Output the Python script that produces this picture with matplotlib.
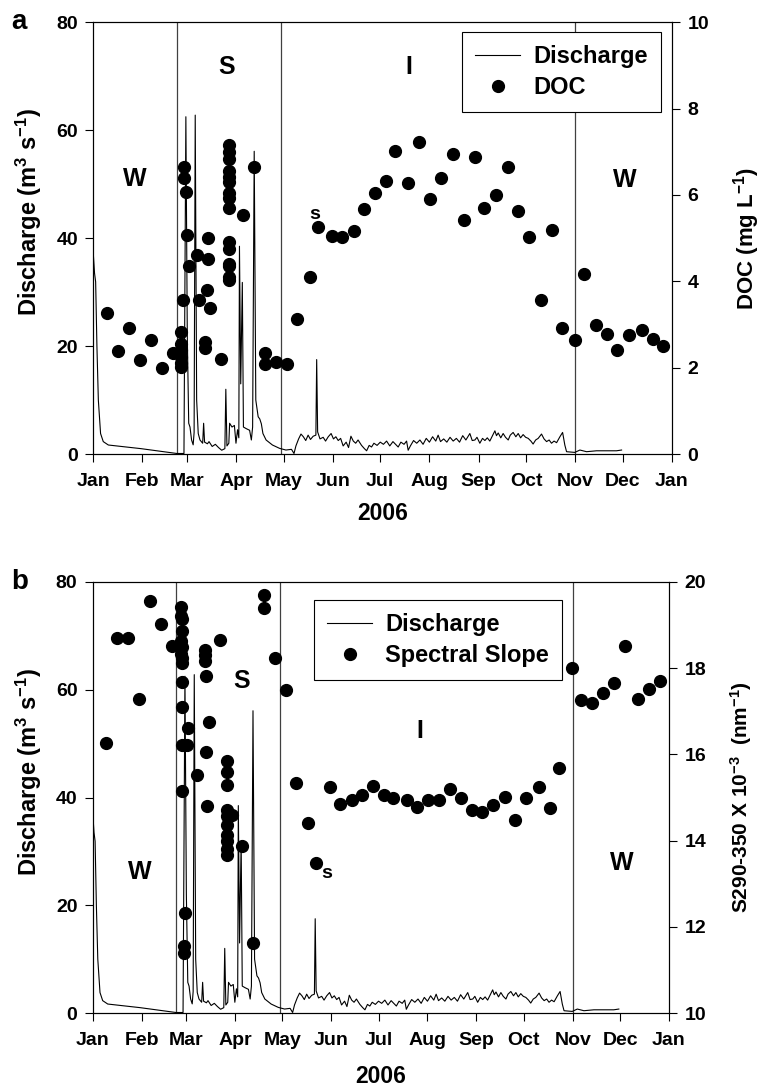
import numpy as np, matplotlib
matplotlib.use("Agg")
import matplotlib.pyplot as plt
from matplotlib.lines import Line2D

plt.rcParams["font.family"]=["Liberation Sans","DejaVu Sans"]
plt.rcParams["font.weight"]="bold"
plt.rcParams["mathtext.fontset"]="custom"
plt.rcParams["mathtext.rm"]="Liberation Sans:bold"
plt.rcParams["mathtext.bf"]="Liberation Sans:bold"
plt.rcParams["mathtext.default"]="bf"

# month ticks (day of year 2006)
month_days=[0,31,59,90,120,151,181,212,243,273,304,334,365]
month_labels=["Jan","Feb","Mar","Apr","May","Jun","Jul","Aug","Sep","Oct","Nov","Dec","Jan"]
season_lines=[52.7,118.6,304]

# discharge (m3 s-1)
q_day=[0,0.8,1.5,2.3,3.2,4.6,6.3,9.5,30,52.7,57.2,58.4,59.3,60.2,61,62,63,63.6,64.3,65.2,66.2,67.3,69,69.6,70.2,72,73,
       75,77,79,81,83,83.6,84.3,85.5,86,87.5,89,90,91,91.8,92.2,93,94,94.7,96.5,98.6,99.7,100.5,101.5,102.5,104,105,106,
       107,109,113,117.5,121.5,125,126.6,127.8,129.5,131,132.5,134,135.5,137,138.7,140.4,140.9,141.5,143,145,146.5,148.2,
       150,151.5,153,154.5,156,157.6,159.5,161,162.5,164,165.5,167,169.2,171,172.4,174,175.5,177,179,181,183,185,187,
       189,191,192.3,194,196,197.6,198.6,200,202,204,206,208,210,212,214,216,217.5,219,221,223,225,227,229,231,233,235,
       237.5,239,240.7,242,243.8,245.5,247,248.5,250.1,251.8,253.3,254.3,255.4,257,258.5,260,261.7,263,264.8,266.5,268,
       269.5,271.1,272.7,274.3,276,277.4,279,280.6,282.7,284.3,285.9,287.5,289,290.6,292.2,294.3,296,297.4,298.5,303.7,
       306.9,311.1,317.4,323.7,330,333.2]
q_val=[37.2,33.5,31.9,20,10,3.8,2.3,1.67,1.0,0.1,0.1,62.5,22,5.7,5.0,2.6,1.7,4,62.8,10,3.8,2.6,2.0,5.7,2.2,1.9,2.3,
       1.4,1.8,1.2,0.7,1.0,12.0,1.5,2.0,5.7,5.0,5.3,2.0,4.5,3.0,38.5,13,31.8,5,4.7,4.4,2.6,5,56.1,10,6.9,6.5,5.6,
       3.8,2.6,1.67,1.05,0.74,0.87,0.1,1.5,2.8,3.7,3.2,2.5,3.5,2.7,3.3,3.5,17.5,4.1,2.8,3.1,2.4,3.2,
       3.8,2.8,3.2,2.5,2.9,1.5,2.2,1.2,3.3,2.4,2.0,2.6,1.6,1.0,0.6,1.6,1.3,2.0,1.6,2.2,1.8,2.4,1.5,
       2.3,1.7,1.3,2.2,1.8,2.4,0.7,1.5,2.5,2.0,2.6,1.8,2.9,2.2,3.2,2.4,3.5,2.3,2.8,2.2,3.1,2.4,2.9,2.2,3.4,2.6,
       3.8,2.5,2.6,3.1,2.0,2.9,2.5,3.0,2.4,3.4,4.3,3.4,3.9,3.0,3.8,3.1,2.6,3.5,4.0,3.2,3.8,
       3.0,3.6,3.1,2.9,2.4,1.85,2.6,2.9,3.7,2.8,2.3,2.6,2.0,2.4,2.1,3.2,4.0,1.67,0.43,0.3,
       0.74,0.43,0.6,0.6,0.6,0.74]

# DOC (mg L-1)
doc_day=[8.4,15.4,22.3,29.3,36.2,43.3,50.3,55.4,55.4,55.4,55.4,55.4,55.4,56.6,57.4,57.4,58.4,59.3,60.6,65.6,66.4,72.3,
         72.5,71.5,73.4,70.4,70.4,80.5,85.8,85.8,85.8,85.8,85.8,85.8,85.8,85.8,85.8,85.8,85.8,85.8,85.8,85.8,85.8,94.4,
         101.3,108.5,108.5,115.4,122.3,128.4,136.4,141.5,150.5,156.6,164.4,170.5,177.4,184.6,190.4,198.6,205.4,212.5,
         219.4,226.6,233.5,240.7,246.5,253.7,261.5,267.6,274.7,282.5,289.4,295.5,303.9,309.8,316.8,323.7,330.6,337.6,
         346,352.7,359.6]
doc_val=[3.26,2.38,2.92,2.18,2.64,1.99,2.33,2.83,2.56,2.41,2.25,2.10,2.02,3.56,6.64,6.40,6.06,5.08,4.35,4.60,3.56,5.0,
         4.51,3.80,3.38,2.60,2.45,2.20,7.15,7.0,6.84,6.56,6.42,6.30,6.05,5.92,5.69,4.90,4.76,4.41,4.36,4.09,4.03,5.53,
         6.65,2.33,2.08,2.14,2.08,3.12,4.11,5.26,5.05,5.02,5.16,5.68,6.05,6.33,7.01,6.28,7.22,5.91,
         6.40,6.96,5.42,6.88,5.69,5.99,6.65,5.63,5.03,3.56,5.19,2.92,2.63,4.17,2.99,2.79,2.42,2.76,
         2.87,2.67,2.50]

# spectral slope S290-350 (x 10^-3 nm-1)
ss_day=[8.4,15.4,22.5,29.5,36.4,43.4,50.2,55.7,55.7,56.4,56.3,55.7,56.6,55.7,56.3,56.6,56.6,56.6,60.5,56.3,59.5,56.6,
        58.4,57.6,57.9,66.2,71,71,71,71.5,73.4,71.5,72.5,80.5,85.3,85.3,85.3,85.3,87.9,85.3,85.3,85.3,85.3,85.3,85.3,
        94.6,101.4,108.5,108.5,115.7,122.5,128.6,136.4,141.4,150.5,156.4,164.4,170.3,177.5,184.3,190.1,199.3,205.6,
        212.3,219.2,226.2,233.4,240.5,246.7,253.4,261.4,267.3,274.5,282.5,289.4,295.6,303.4,309.3,316.3,323.4,330.4,
        337.3,345.4,352.1,359.5]
ss_val=[16.27,18.69,18.71,17.29,19.57,19.02,18.52,19.42,19.21,19.13,18.86,18.64,18.50,18.34,18.24,18.13,17.67,17.09,
        16.62,16.22,16.22,15.14,12.32,11.55,11.40,15.53,18.42,18.30,18.17,17.81,16.75,16.05,14.80,18.66,15.84,15.59,
        15.28,14.70,14.60,14.56,14.36,14.14,13.99,13.81,13.67,13.87,11.62,19.69,19.39,18.23,17.50,15.33,14.42,13.47,
        15.24,14.85,14.94,15.06,15.27,15.05,14.99,14.94,14.79,14.94,14.94,15.19,15.0,14.72,14.66,14.83,15.02,14.47,
        14.98,15.25,14.76,15.68,18.01,17.26,17.20,17.42,17.66,18.52,17.29,17.52,17.70]

fig=plt.figure(figsize=(7.62,10.88),dpi=100)
axa=fig.add_axes([0.1224,0.5827,0.7595,0.3968])
axb=fig.add_axes([0.1217,0.0689,0.7563,0.3962])

def panel(ax,yvals,ylab2,lab2fs,yr,yticks2,mlabel,leg_anchor,letter,texts,xpad):
    for d in season_lines:
        ax.axvline(d,color="#404040",lw=0.9,zorder=1)
    ax.plot(q_day,q_val,color="black",lw=0.8,zorder=2)
    ax.set_xlim(0,365); ax.set_ylim(0,80)
    ax.set_xticks(month_days); ax.set_xticklabels(month_labels)
    ax.set_yticks([0,20,40,60,80])
    ax.tick_params(direction="out",length=6,width=0.8,labelsize=14,pad=5)
    ax.tick_params(axis="x",pad=8)
    ax.set_ylabel("Discharge (m$^{3}$ s$^{-1}$)",fontsize=17,fontweight="bold")
    ax.yaxis.set_label_coords(-0.085,0.56)
    ax.set_xlabel("2006",fontsize=16.5,fontweight="bold",labelpad=xpad)
    ax2=ax.twinx()
    ax2.plot(yvals[0],yvals[1],"o",color="black",ms=8.5,zorder=3)
    ax2.set_ylim(*yr); ax2.set_yticks(yticks2)
    ax2.tick_params(direction="out",length=6,width=0.8,labelsize=14,pad=5)
    ax2.set_ylabel(ylab2,fontsize=lab2fs,fontweight="bold",labelpad=16)
    for s in list(ax.spines.values())+list(ax2.spines.values()):
        s.set_linewidth(0.8)
    for t,x,y,fs in texts:
        ax.text(x,y,t,fontsize=fs,fontweight="bold",ha="center",va="center",zorder=4)
    h=[Line2D([],[],color="black",lw=0.8),Line2D([],[],ls="",marker="o",color="black",ms=8.5)]
    lg=ax2.legend(h,["Discharge",mlabel],loc="upper right",bbox_to_anchor=leg_anchor,fancybox=False,
                  edgecolor="black",framealpha=1,prop={"size":17,"weight":"bold"},handlelength=1.9,
                  borderpad=0.55,labelspacing=0.35,handletextpad=0.55,borderaxespad=0)
    lg.get_frame().set_linewidth(0.8); lg.set_zorder(5)
    fig.text(0.015,ax.get_position().y1,letter,fontsize=20,fontweight="bold",va="center")
    return ax2

panel(axa,(doc_day,doc_val),"DOC (mg L$^{-1}$)",16,(0,10),[0,2,4,6,8,10],"DOC",(0.9805,0.978),"a",
      [("S",84,71.7,18),("W",26.3,50.9,18),("s",139.4,44.3,14),("I",199,71.7,18),("W",335,50.7,18)],8)
panel(axb,(ss_day,ss_val),"S290-350 X 10$^{-3}$  (nm$^{-1}$)",15,(10,20),[10,12,14,16,18,20],"Spectral Slope",
      (0.8143,0.958),"b",
      [("S",94.6,61.6,18),("W",30,26.1,18),("s",148,25.9,14),("I",207,52.4,18),("W",335,27.9,18)],11)

fig.savefig("out.png",dpi=100)
